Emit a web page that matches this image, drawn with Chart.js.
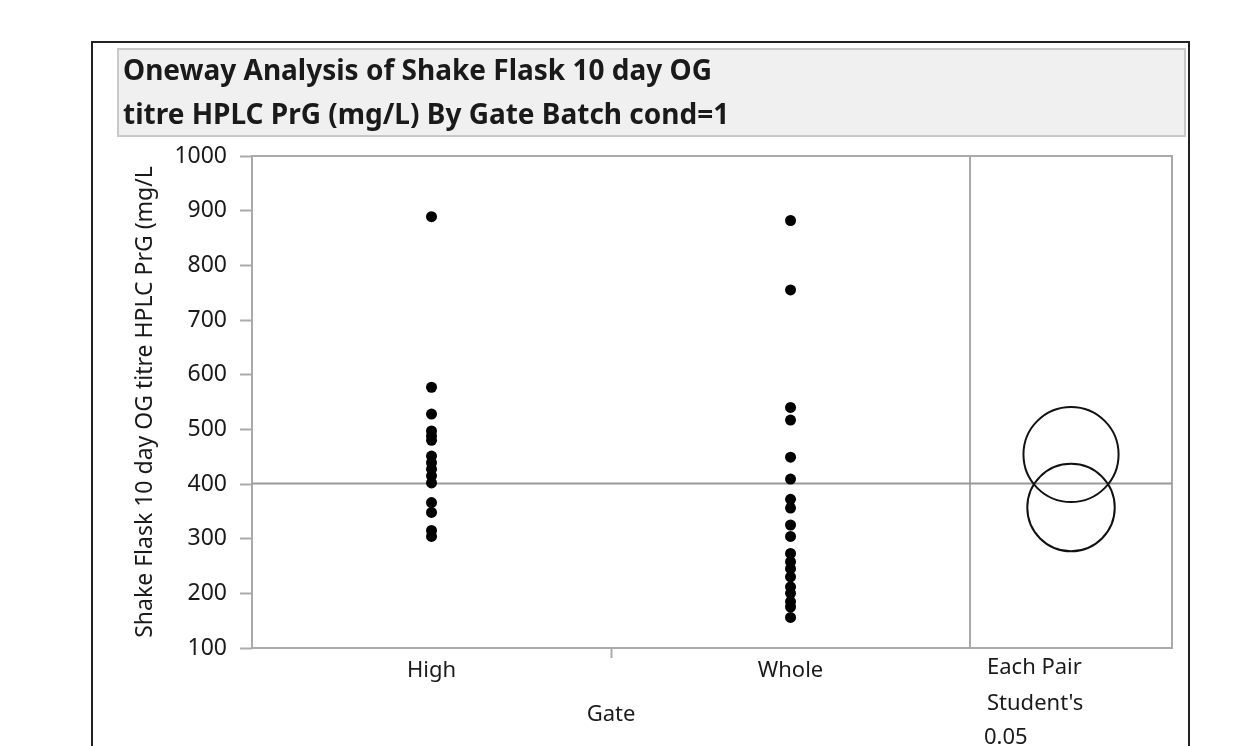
<!DOCTYPE html>
<html>
<head>
<meta charset="utf-8">
<script src="https://cdn.jsdelivr.net/npm/chart.js@4.4.1/dist/chart.umd.min.js"></script>
<style>
  html, body { margin: 0; padding: 0; background: #fff; }
</style>
</head>
<body>
<canvas id="oneway" width="1234" height="746"></canvas>
<script>
// data
const groups = ["High", "Whole"];
const groupPos = [1, 3];
const highTitre = [889, 577, 528, 497, 488, 480, 451, 439, 427, 415, 402, 366, 348, 315, 304];
const wholeTitre = [882, 755, 540, 517, 449, 409, 372, 356, 325, 304, 273, 258, 245, 230, 212, 200, 185, 175, 156];
const grandMean = 401;
// comparison circles (Each Pair, Student's t, 0.05)
const circleCenters = [454, 357];
const circleRadii = [87, 80];
const circlePos = 4.5625;
const panelStart = 4;
const xMax = 5.125;
const yMin = 100, yMax = 1000, yStep = 100;

const titleLines = ["Oneway Analysis of Shake Flask 10 day OG", "titre HPLC PrG (mg/L) By Gate Batch cond=1"];
const yTitle = "Shake Flask 10 day OG titre HPLC PrG (mg/L";
const panelText = ["Each Pair", "Student's", "0.05"];

const FONT = "'Noto Sans', 'Open Sans', sans-serif";

const decor = {
    id: 'decor',
    beforeDraw(chart) {
        const ctx = chart.ctx;
        ctx.save();
        // outer frame
        ctx.strokeStyle = '#222';
        ctx.lineWidth = 2;
        ctx.strokeRect(92, 42, 1097, 760);
        // title box
        ctx.fillStyle = '#f0f0f0';
        ctx.fillRect(118, 49, 1067, 87);
        ctx.strokeStyle = '#c8c8c8';
        ctx.strokeRect(118, 49, 1067, 87);
        ctx.fillStyle = '#1a1a1a';
        ctx.font = "bold 28px " + FONT;
        ctx.textBaseline = 'alphabetic';
        ctx.textAlign = 'left';
        ctx.fillText(titleLines[0], 123, 80);
        ctx.fillText(titleLines[1], 123, 124);
        ctx.restore();
    },
    beforeDatasetsDraw(chart) {
        const ctx = chart.ctx;
        const a = chart.chartArea;
        const x = chart.scales.x, y = chart.scales.y;
        ctx.save();
        ctx.strokeStyle = '#aaa';
        ctx.lineWidth = 2;
        ctx.strokeRect(a.left, a.top, a.right - a.left, a.bottom - a.top);
        const sx = Math.round(x.getPixelForValue(panelStart));
        ctx.beginPath();
        ctx.moveTo(sx, a.top);
        ctx.lineTo(sx, a.bottom);
        ctx.stroke();
        ctx.strokeStyle = '#999';
        const my = y.getPixelForValue(grandMean);
        ctx.beginPath();
        ctx.moveTo(a.left, my);
        ctx.lineTo(a.right, my);
        ctx.stroke();
        ctx.restore();
    },
    afterDatasetsDraw(chart) {
        const ctx = chart.ctx;
        const x = chart.scales.x, y = chart.scales.y;
        ctx.save();
        ctx.strokeStyle = '#111';
        ctx.lineWidth = 2;
        const cx = x.getPixelForValue(circlePos);
        circleCenters.forEach((c, i) => {
            const cy = y.getPixelForValue(c);
            const r = Math.abs(y.getPixelForValue(c + circleRadii[i]) - cy);
            ctx.beginPath();
            ctx.arc(cx, cy, r, 0, Math.PI * 2);
            ctx.stroke();
        });
        ctx.fillStyle = '#1a1a1a';
        ctx.font = "22px " + FONT;
        ctx.textBaseline = 'alphabetic';
        ctx.textAlign = 'center';
        ctx.fillText("Gate", x.getPixelForValue((groupPos[0] + groupPos[1]) / 2), 721);
        ctx.textAlign = 'left';
        ctx.fillText(panelText[0], 987, 674);
        ctx.fillText(panelText[1], 987, 710);
        ctx.fillText(panelText[2], 984, 744);
        ctx.restore();
    }
};

const ctx = document.getElementById('oneway').getContext('2d');

new Chart(ctx, {
    type: 'scatter',
    data: {
        datasets: [{
            label: groups[0],
            data: highTitre.map(v => ({x: groupPos[0], y: v})),
            backgroundColor: '#000',
            borderWidth: 0,
            pointRadius: 5.5
        }, {
            label: groups[1],
            data: wholeTitre.map(v => ({x: groupPos[1], y: v})),
            backgroundColor: '#000',
            borderWidth: 0,
            pointRadius: 5.5
        }]
    },
    options: {
        responsive: false,
        animation: false,
        devicePixelRatio: 1,
        layout: { padding: { top: 156, right: 62, left: 0, bottom: 0 } },
        plugins: {
            legend: { display: false },
            tooltip: { enabled: false }
        },
        scales: {
            x: {
                type: 'linear',
                min: 0,
                max: xMax,
                afterBuildTicks: s => { s.ticks = [groupPos[0], 2, groupPos[1]].map(v => ({value: v})); },
                afterFit: s => { s.height = 98; },
                border: { display: false },
                grid: {
                    drawOnChartArea: false,
                    tickLength: 10,
                    tickWidth: 2,
                    tickColor: c => (c.tick && c.tick.value === 2) ? '#aaa' : 'rgba(0,0,0,0)'
                },
                ticks: {
                    padding: 0,
                    color: '#1a1a1a',
                    font: { family: FONT, size: 22 },
                    callback: v => {
                        const i = groupPos.indexOf(v);
                        return i >= 0 ? groups[i] : '';
                    }
                }
            },
            y: {
                min: yMin,
                max: yMax,
                afterFit: s => { s.width = 252; },
                border: { display: false },
                grid: {
                    drawOnChartArea: false,
                    tickLength: 12,
                    tickWidth: 2,
                    tickColor: '#aaa'
                },
                ticks: {
                    stepSize: yStep,
                    padding: 13,
                    color: '#1a1a1a',
                    font: { family: FONT, size: 23 },
                    callback: v => String(v)
                },
                title: {
                    display: true,
                    text: yTitle,
                    color: '#1a1a1a',
                    font: { family: FONT, size: 23 },
                    padding: { top: 132, bottom: 0 }
                }
            }
        }
    },
    plugins: [decor]
});
</script>
</body>
</html>
